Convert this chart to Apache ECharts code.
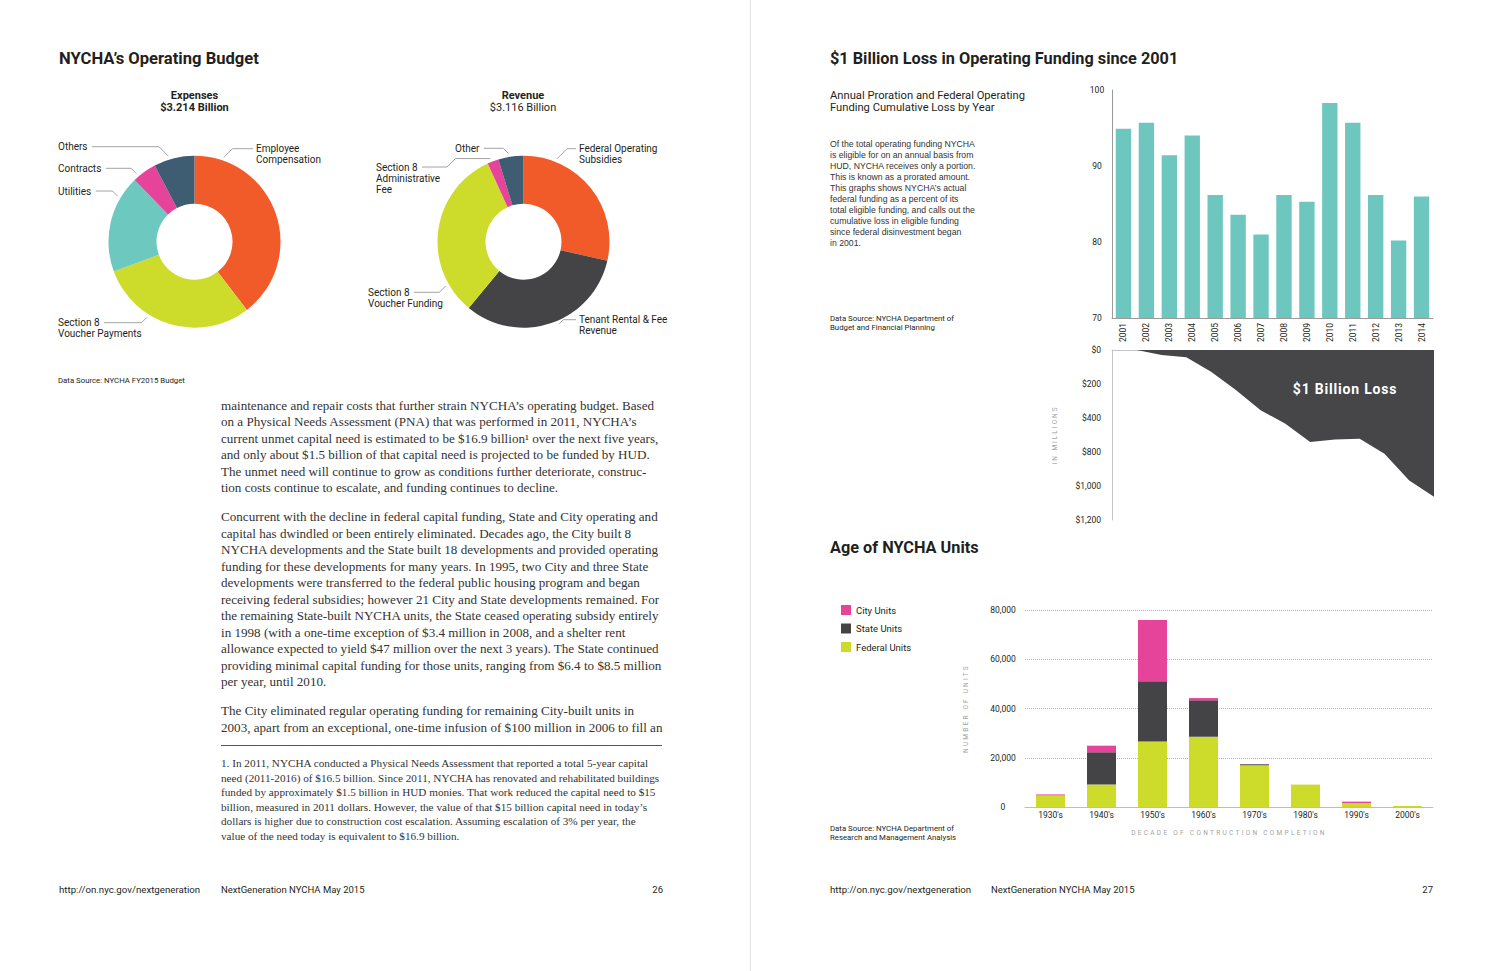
<!DOCTYPE html>
<html><head><meta charset="utf-8">
<script src="https://cdn.jsdelivr.net/npm/echarts@6/dist/echarts.min.js"></script>
<style>html,body{margin:0;padding:0;background:#fff}#c{width:1500px;height:971px}</style>
</head><body><div id="c"></div>
<script>
// ---------- DATA ----------
const expenseNames = ['Employee\nCompensation', 'Section 8\nVoucher Payments', 'Utilities', 'Contracts', 'Others'];
const expenseValues = [1272, 958, 590, 148, 246];          // $ millions, total 3,214
const revenueNames = ['Federal Operating\nSubsidies', 'Tenant Rental & Fee\nRevenue', 'Section 8\nVoucher Funding', 'Section 8\nAdministrative\nFee', 'Other'];
const revenueValues = [890, 1010, 1003, 66, 147];          // $ millions, total 3,116

const prorationYears = ['2001','2002','2003','2004','2005','2006','2007','2008','2009','2010','2011','2012','2013','2014'];
const prorationPct = [94.9, 95.7, 91.4, 94.0, 86.2, 83.6, 81.0, 86.2, 85.3, 98.3, 95.7, 86.2, 80.2, 86.0];
const cumulativeLoss = [0, 0, 35, 52, 154, 283, 425, 520, 650, 631, 626, 732, 921, 1035];
const lossTickLabels = ['$0', '$200', '$400', '$800', '$1,000', '$1,200'];

const decades = ["1930's", "1940's", "1950's", "1960's", "1970's", "1980's", "1990's", "2000's"];
const federalUnits = [4700, 9100, 26600, 28500, 16950, 9100, 1630, 400];
const stateUnits   = [0, 13100, 24500, 14800, 400, 0, 0, 0];
const cityUnits    = [400, 2700, 24800, 940, 0, 0, 540, 0];
const unitTickLabels = ['0', '20,000', '40,000', '60,000', '80,000'];

// ---------- TEXT ----------
const para1 = "maintenance and repair costs that further strain NYCHA\u2019s operating budget. Based\non a Physical Needs Assessment (PNA) that was performed in 2011, NYCHA\u2019s\ncurrent unmet capital need is estimated to be $16.9 billion\u00b9 over the next five years,\nand only about $1.5 billion of that capital need is projected to be funded by HUD.\nThe unmet need will continue to grow as conditions further deteriorate, construc-\ntion costs continue to escalate, and funding continues to decline.";
const para2 = "Concurrent with the decline in federal capital funding, State and City operating and\ncapital has dwindled or been entirely eliminated. Decades ago, the City built 8\nNYCHA developments and the State built 18 developments and provided operating\nfunding for these developments for many years. In 1995, two City and three State\ndevelopments were transferred to the federal public housing program and began\nreceiving federal subsidies; however 21 City and State developments remained. For\nthe remaining State-built NYCHA units, the State ceased operating subsidy entirely\nin 1998 (with a one-time exception of $3.4 million in 2008, and a shelter rent\nallowance expected to yield $47 million over the next 3 years). The State continued\nproviding minimal capital funding for those units, ranging from $6.4 to $8.5 million\nper year, until 2010.";
const para3 = "The City eliminated regular operating funding for remaining City-built units in\n2003, apart from an exceptional, one-time infusion of $100 million in 2006 to fill an";
const footnote = "1. In 2011, NYCHA conducted a Physical Needs Assessment that reported a total 5-year capital\nneed (2011-2016) of $16.5 billion. Since 2011, NYCHA has renovated and rehabilitated buildings\nfunded by approximately $1.5 billion in HUD monies. That work reduced the capital need to $15\nbillion, measured in 2011 dollars. However, the value of that $15 billion capital need in today\u2019s\ndollars is higher due to construction cost escalation. Assuming escalation of 3% per year, the\nvalue of the need today is equivalent to $16.9 billion.";
const prorationNote = "Of the total operating funding NYCHA\nis eligible for on an annual basis from\nHUD, NYCHA receives only a portion.\nThis is known as a prorated amount.\nThis graphs shows NYCHA\u2019s actual\nfederal funding as a percent of its\ntotal eligible funding, and calls out the\ncumulative loss in eligible funding\nsince federal disinvestment began\nin 2001.";

// ---------- STYLE ----------
const FONT = 'Roboto';
const SERIF = 'Liberation Serif';
const INK = '#231f20';
const ORANGE = '#f15a29', LIME = '#cddc2a', TEAL = '#6dc8bf', PINK = '#e6449a', SLATE = '#3e5c72', DARK = '#444446';

const measureCtx = document.createElement('canvas').getContext('2d');
function textW(s, size) { measureCtx.font = size + 'px ' + FONT; return measureCtx.measureText(s).width; }

// label placement (layout only)
const expLabelLayout = [
  {side: 'right', x: 256, y: 143.2, frac: 0.135},
  {side: 'left', x: 58, y: 317.2, frac: 0.65},
  {side: 'left', x: 58, y: 185.5, frac: 0.77},
  {side: 'left', x: 58, y: 162.8, frac: 0.22},
  {side: 'left', x: 58, y: 141.2, frac: 0.384}
];
const revLabelLayout = [
  {side: 'right', x: 579, y: 143.2, frac: 0.214},
  {side: 'right', x: 579, y: 314.2, frac: 0.46},
  {side: 'left', x: 368, y: 286.8, frac: 0.18},
  {side: 'left', x: 376, y: 161.5, frac: 0.38, jog: true},
  {side: 'left', x: 455, y: 142.8, frac: 0.43}
];

function pieSeries(names, values, colors, cx, cy, layout) {
  const total = values.reduce((a, b) => a + b, 0);
  let acc = 0;
  const spans = values.map(v => { const a0 = acc / total * 360; acc += v; return [a0, acc / total * 360]; });
  const R = 89.5;
  return {
    type: 'pie', center: [cx, cy], radius: [38, 86], startAngle: 90, clockwise: true,
    avoidLabelOverlap: false, silent: true,
    data: names.map((n, i) => ({name: n, value: values[i], itemStyle: {color: colors[i]}})),
    label: {show: true, position: 'outside', formatter: '{b}', fontSize: 10, lineHeight: 11, fontFamily: FONT, color: INK, align: 'left'},
    labelLine: {show: true, length: 8, length2: 8, lineStyle: {color: '#8c8c8c', width: 0.8}},
    labelLayout: function (p) {
      const c = layout[p.dataIndex];
      const sp = spans[p.dataIndex];
      const th = (sp[0] + c.frac * (sp[1] - sp[0])) * Math.PI / 180;
      const ax = cx + R * Math.sin(th), ay = cy - R * Math.cos(th);
      const ly = c.y + 5.5;
      const first = names[p.dataIndex].split('\n')[0];
      let pts;
      if (c.side === 'left') {
        const lx = c.x + textW(first, 10) + 4.5;
        if (c.jog) {
          const j1 = lx + 25, j2 = j1 + Math.abs(ly - ay);
          pts = [[ax, ay], [j2, ay], [j1, ly], [lx, ly]];
        } else {
          const ex = Math.max(lx + 2, ax - Math.abs(ly - ay));
          pts = [[ax, ay], [ex, ly], [lx, ly]];
        }
      } else {
        const lx = c.x - 3;
        const ex = Math.min(lx - 2, ax + Math.abs(ly - ay));
        pts = [[ax, ay], [ex, ly], [lx, ly]];
      }
      return {x: c.x, y: c.y, align: 'left', verticalAlign: 'top', labelLinePoints: pts};
    }
  };
}

function txt(x, y, text, o) {
  o = o || {};
  return {
    type: 'text', x: x, y: y, silent: true, z: 100,
    style: {
      text: text, fontSize: o.size || 10, fontFamily: o.family || FONT, fontWeight: o.weight || 'normal',
      fill: o.fill || INK, lineHeight: o.lh, align: o.align || 'left', verticalAlign: o.va || 'middle'
    }
  };
}

const chart = echarts.init(document.getElementById('c'), null, {renderer: 'svg', width: 1500, height: 971});

const option = {
  animation: false,
  textStyle: {fontFamily: FONT},
  grid: [
    {left: 1112, top: 90, width: 321, height: 228},
    {left: 1112, top: 350, width: 322, height: 170},
    {left: 1025, top: 610, width: 408, height: 197}
  ],
  legend: {
    data: ['City Units', 'State Units', 'Federal Units'], orient: 'vertical', left: 836, top: 600,
    itemWidth: 10, itemHeight: 10, itemGap: 8.5, icon: 'rect', selectedMode: false,
    textStyle: {fontSize: 9.5, color: INK, fontFamily: FONT}
  },
  xAxis: [
    {gridIndex: 0, type: 'category', data: prorationYears,
     axisLine: {lineStyle: {color: '#9a9a9a', width: 1}}, axisTick: {show: false},
     axisLabel: {rotate: 90, interval: 0, fontSize: 8.5, color: INK, margin: 5}},
    {gridIndex: 1, type: 'category', data: prorationYears, boundaryGap: false, position: 'top',
     axisLine: {lineStyle: {color: '#c4c4c4'}}, axisTick: {show: false}, axisLabel: {show: false}},
    {gridIndex: 2, type: 'category', data: decades,
     axisLine: {lineStyle: {color: '#bdbdbd'}}, axisTick: {show: false},
     axisLabel: {fontSize: 8.5, color: INK, margin: 3, interval: 0},
     name: 'DECADE OF CONTRUCTION COMPLETION', nameLocation: 'middle', nameGap: 22,
     nameTextStyle: {fontSize: 6.5, color: '#a3a3a3'}}
  ],
  yAxis: [
    {gridIndex: 0, type: 'value', min: 70, max: 100, interval: 10,
     axisLine: {show: true, lineStyle: {color: '#9a9a9a'}}, splitLine: {show: false}, axisTick: {show: false},
     axisLabel: {fontSize: 8.5, color: INK, align: 'center', margin: 15}},
    {gridIndex: 1, type: 'value', inverse: true, min: 0, max: 1200, interval: 240,
     axisLine: {show: true, lineStyle: {color: '#c4c4c4'}}, splitLine: {show: false}, axisTick: {show: false},
     axisLabel: {fontSize: 8.5, color: INK, margin: 11, formatter: v => lossTickLabels[Math.round(v / 240)]},
     name: 'IN MILLIONS', nameLocation: 'middle', nameRotate: 90, nameGap: 54,
     nameTextStyle: {fontSize: 6.5, color: '#a3a3a3'}},
    {gridIndex: 2, type: 'value', min: 0, max: 80000, interval: 20000,
     axisLine: {show: false}, axisTick: {show: false},
     splitLine: {show: true, lineStyle: {type: [1, 1], color: '#9c9c9c', width: 0.8}},
     axisLabel: {fontSize: 8.5, color: INK, align: 'center', margin: 22, formatter: v => unitTickLabels[Math.round(v / 20000)]},
     name: 'NUMBER OF UNITS', nameLocation: 'middle', nameRotate: 90, nameGap: 56,
     nameTextStyle: {fontSize: 6.5, color: '#a3a3a3'}}
  ],
  series: [
    pieSeries(expenseNames, expenseValues, [ORANGE, LIME, TEAL, PINK, SLATE], 194.5, 241.7, expLabelLayout),
    pieSeries(revenueNames, revenueValues, [ORANGE, DARK, LIME, PINK, SLATE], 523.5, 241.7, revLabelLayout),
    {type: 'bar', xAxisIndex: 0, yAxisIndex: 0, data: prorationPct, barCategoryGap: '33%', silent: true,
     itemStyle: {color: '#6dc7bf'}},
    {type: 'line', xAxisIndex: 1, yAxisIndex: 1, data: cumulativeLoss, symbol: 'none', silent: true,
     lineStyle: {opacity: 0}, areaStyle: {color: '#464648', opacity: 1}},
    {type: 'bar', name: 'Federal Units', stack: 'units', xAxisIndex: 2, yAxisIndex: 2, data: federalUnits,
     barWidth: 29, silent: true, itemStyle: {color: LIME}},
    {type: 'bar', name: 'State Units', stack: 'units', xAxisIndex: 2, yAxisIndex: 2, data: stateUnits,
     barWidth: 29, silent: true, itemStyle: {color: DARK}},
    {type: 'bar', name: 'City Units', stack: 'units', xAxisIndex: 2, yAxisIndex: 2, data: cityUnits,
     barWidth: 29, silent: true, itemStyle: {color: PINK}}
  ],
  graphic: [
    {type: 'line', silent: true, shape: {x1: 750.5, y1: 0, x2: 750.5, y2: 971}, style: {stroke: '#e2e2e2', lineWidth: 1}},
    {type: 'line', silent: true, shape: {x1: 221, y1: 745.5, x2: 662, y2: 745.5}, style: {stroke: '#555', lineWidth: 1}},
    txt(59, 58, 'NYCHA\u2019s Operating Budget', {size: 16.6, weight: 'bold'}),
    txt(194.5, 95, 'Expenses', {size: 11, weight: 'bold', align: 'center'}),
    txt(194.5, 107, '$3.214 Billion', {size: 11, weight: 'bold', align: 'center'}),
    txt(523, 95, 'Revenue', {size: 11, weight: 'bold', align: 'center'}),
    txt(523, 107, '$3.116 Billion', {size: 11, align: 'center'}),
    txt(58, 380, 'Data Source: NYCHA FY2015 Budget', {size: 7.8}),
    txt(221, 396.75, para1, {size: 13.1, family: SERIF, fill: '#333', lh: 16.5, va: 'top'}),
    txt(221, 508.25, para2, {size: 13.1, family: SERIF, fill: '#333', lh: 16.5, va: 'top'}),
    txt(221, 702.25, para3, {size: 13.1, family: SERIF, fill: '#333', lh: 16.5, va: 'top'}),
    txt(221, 755.7, footnote, {size: 11.2, family: SERIF, fill: '#333', lh: 14.6, va: 'top'}),
    txt(59, 889, 'http://on.nyc.gov/nextgeneration', {size: 9.7}),
    txt(221, 889, 'NextGeneration NYCHA May 2015', {size: 9.5}),
    txt(663, 889, '26', {size: 9.5, align: 'right'}),
    txt(830, 58, '$1 Billion Loss in Operating Funding since 2001', {size: 16.3, weight: 'bold'}),
    txt(830, 89, 'Annual Proration and Federal Operating\nFunding Cumulative Loss by Year', {size: 11.2, lh: 12, va: 'top'}),
    txt(830, 138.5, prorationNote, {size: 8.7, family: 'Liberation Sans', lh: 11, va: 'top', fill: '#333'}),
    txt(830, 313.5, 'Data Source: NYCHA Department of\nBudget and Financial Planning', {size: 7.8, lh: 9, va: 'top'}),
    txt(1345, 389, '$1 Billion Loss', {size: 14, weight: 'bold', fill: '#ffffff', align: 'center'}),
    txt(830, 547, 'Age of NYCHA Units', {size: 16.3, weight: 'bold'}),
    txt(830, 823.5, 'Data Source: NYCHA Department of\nResearch and Management Analysis', {size: 7.8, lh: 9, va: 'top'}),
    txt(830, 889, 'http://on.nyc.gov/nextgeneration', {size: 9.7}),
    txt(991, 889, 'NextGeneration NYCHA May 2015', {size: 9.5}),
    txt(1433, 889, '27', {size: 9.5, align: 'right'})
  ]
};
chart.setOption(option);

const tracking = {'IN MILLIONS': 2, 'NUMBER OF UNITS': 2.2, 'DECADE OF CONTRUCTION COMPLETION': 2.3, '$1 Billion Loss': 0.8};
function applyTracking() {
  document.querySelectorAll('#c svg text').forEach(t => {
    const s = t.textContent;
    if (tracking[s] !== undefined) t.setAttribute('letter-spacing', tracking[s]);
  });
}
applyTracking();
chart.on('finished', applyTracking);
</script>
</body></html>
